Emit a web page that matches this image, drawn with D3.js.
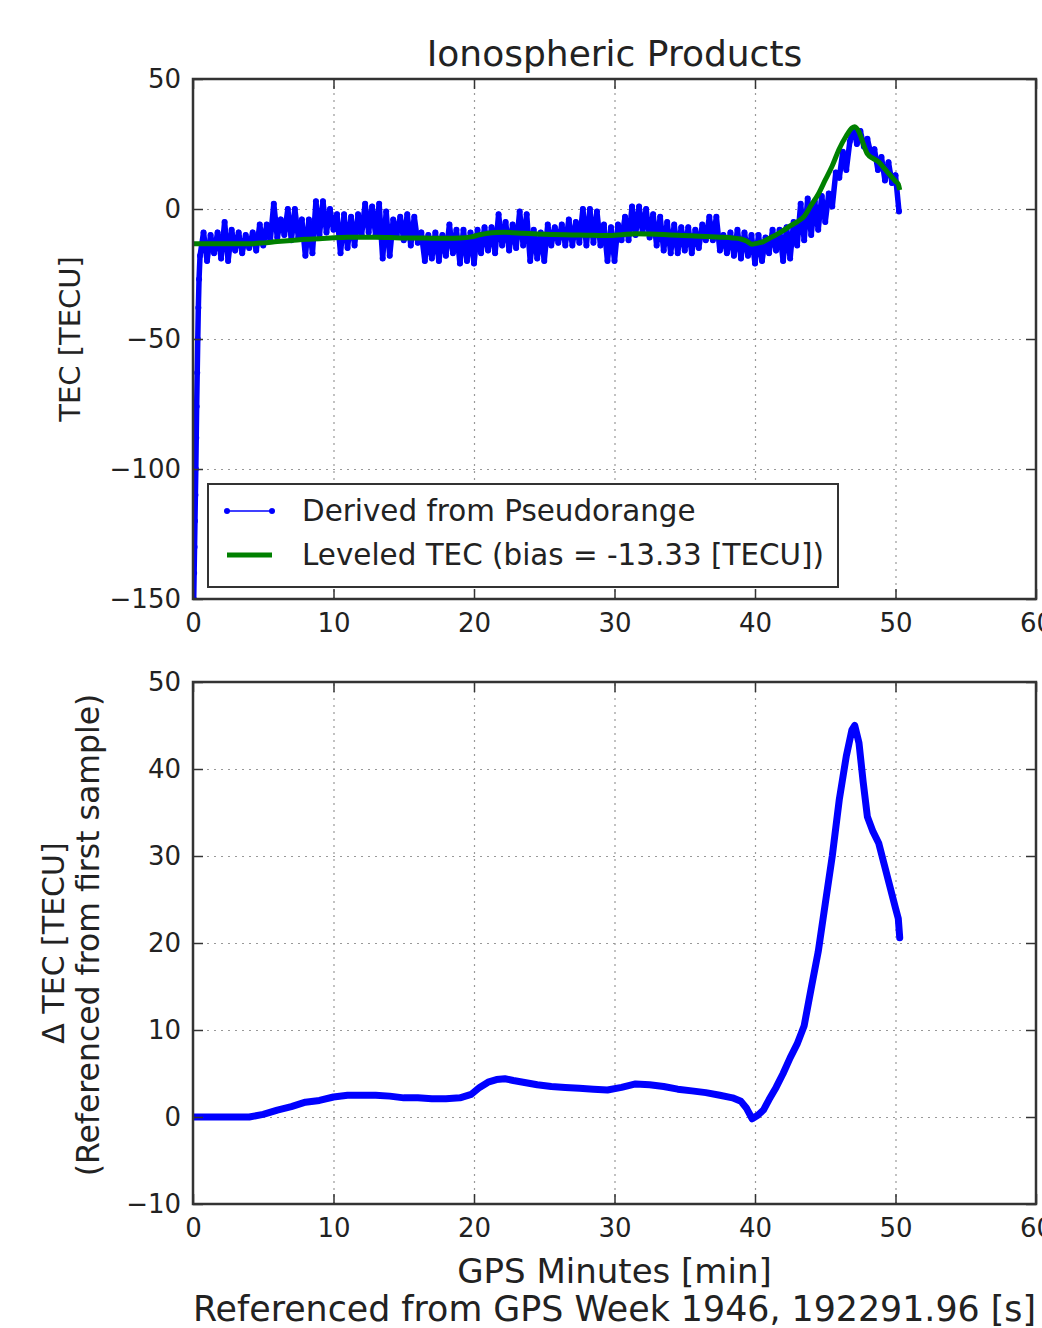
<!DOCTYPE html>
<html>
<head>
<meta charset="utf-8">
<script src="https://cdn.jsdelivr.net/npm/d3@7"></script>
<style>
  body { margin: 0; background: #fff; }
  svg { display: block; font-family: "DejaVu Sans", sans-serif; }
  .grid line { stroke: #999; stroke-width: 1.2; stroke-dasharray: 2,5; }
  .grid path { display: none; }
  .ticks path { display: none; }
  .ticks line { stroke: #333; stroke-width: 1.5; }
  .ticks text { fill: #222; font-size: 26px; font-family: "DejaVu Sans", sans-serif; }
  .label { fill: #222; }
</style>
</head>
<body>
<svg id="chart" width="1042" height="1328"></svg>
<script>
// ************************************
// Data
// ************************************

const xTicks = [0, 10, 20, 30, 40, 50, 60];
const topYTicks = [-150, -100, -50, 0, 50];
const bottomYTicks = [-10, 0, 10, 20, 30, 40, 50];

const bias = -13.33;  // from the legend text

// pseudorange TEC: steep start-up ramp in the first half minute
const rampMinutes = [0.05, 0.08, 0.11, 0.14, 0.17, 0.2, 0.23, 0.26, 0.3, 0.34, 0.38, 0.43];
const rampTec = [-150, -140, -130, -120, -110, -100, -88, -76, -63, -50, -38, -27];

// pseudorange TEC afterwards, one reading every 0.25 min from 0.5 min
const pseudoStart = 0.5, pseudoStep = 0.25;
const pseudoTec = [
  -18, -9,
  -20, -10, -17, -9,    -19, -5, -20, -8,     -16, -9, -17, -10,    -15, -9, -16, -6,
  -14, -6, -12, 2,      -11, -4, -10, 0,      -12, 0, -11, -4,      -18, -4, -17, 3,
  -10, 3, -9, 0,        -8, -2, -17, -2,      -15, -3, -14, -2,     -10, 2, -9, 1,
  -10, 2, -19, -1,      -18, -4, -10, -3,     -12, -2, -14, -3,     -13, -9, -20, -10,
  -19, -9, -20, -10,    -18, -6, -17, -8,     -21, -8, -20, -9,     -21, -8, -17, -7,
  -16, -7, -17, -2,     -14, -5, -16, -6,     -15, -1, -14, -2,     -20, -8, -19, -9,
  -20, -6, -14, -7,     -13, -6, -14, -4,     -14, -5, -13, 0,      -14, 0, -13, -1,
  -14, -6, -20, -7,     -20, -6, -12, -3,     -12, 1, -10, 1,       -9, 0, -11, -2,
  -14, -3, -16, -5,     -17, -6, -17, -7,     -16, -7, -17, -8,     -15, -6, -12, -3,
  -12, -3, -16, -10,    -17, -9, -18, -8,     -19, -9, -18, -10,    -21, -10, -20, -11,
  -17, -8, -16, -8,     -20, -7, -19, -5,     -14, 2, -12, 4,       -10, 3, -8, 5,
  -5, 6, 1, 14,         12, 22, 15, 26,       31, 25, 30, 24,       27, 21, 23, 15,
  20, 11, 18, 10,
  13, -1
];

// carrier-phase delta TEC (bottom panel)
const deltaMinutes = [0, 2, 4, 5, 6, 7, 8, 9, 10, 11, 12, 13, 14, 15, 16, 17, 18, 19, 19.8, 20.4,
  21, 21.6, 22.2, 22.8, 23.5, 24.5, 25.5, 26.5, 27.5, 28.5, 29.5, 30.5, 31.5, 32.5, 33.5, 34.5,
  35.5, 36.5, 37.5, 38.4, 39.0, 39.4, 39.8, 40.2, 40.6, 41.0, 41.5, 42.0, 42.5, 43.0, 43.5, 44.0,
  44.5, 45.0, 45.5, 46.0, 46.5, 46.9, 47.1, 47.4, 47.7, 48.0, 48.4, 48.8, 49.2, 49.6, 50.0, 50.2, 50.3];
const deltaTec = [0, 0, 0, 0.3, 0.8, 1.2, 1.7, 1.9, 2.3, 2.5, 2.5, 2.5, 2.4, 2.2, 2.2, 2.1, 2.1, 2.2, 2.6, 3.4,
  4.0, 4.3, 4.4, 4.2, 4.0, 3.7, 3.5, 3.4, 3.3, 3.2, 3.1, 3.4, 3.8, 3.7, 3.5, 3.2,
  3.0, 2.8, 2.5, 2.2, 1.8, 1.0, -0.2, 0.2, 0.8, 2.0, 3.4, 5.0, 6.8, 8.4, 10.5, 14.8,
  19.0, 24.5, 30.0, 36.5, 41.5, 44.5, 45.0, 43.0, 38.5, 34.5, 32.8, 31.5, 29.0, 26.5, 24.0, 22.8, 20.6];

const titleText = "Ionospheric Products";
const legendLabels = ["Derived from Pseudorange", "Leveled TEC (bias = -13.33 [TECU])"];

// ************************************
// Set up
// ************************************

const svg = d3.select("#chart");
const left = 193, right = 1036;

const x = d3.scaleLinear().domain([0, 60]).range([left, right]);
const yTop = d3.scaleLinear().domain([-150, 50]).range([599, 79]);
const yBot = d3.scaleLinear().domain([-10, 50]).range([1204, 682]);

const pseudo = rampMinutes.map((t, i) => ({x: t, y: rampTec[i]}))
  .concat(pseudoTec.map((v, i) => ({x: pseudoStart + i * pseudoStep, y: v})));
const delta = deltaMinutes.map((t, i) => ({x: t, y: deltaTec[i]}));
// leveled TEC is the delta TEC shifted by the bias
const leveled = delta.map(d => ({x: d.x, y: d.y + bias}));

function panel(y, yTicks, id) {
  const [y0, y1] = y.range();

  // clip for the data
  svg.append("clipPath").attr("id", id)
    .append("rect").attr("x", left).attr("y", y1).attr("width", right - left).attr("height", y0 - y1);

  // Gridlines
  svg.append("g").attr("class", "grid")
    .attr("transform", `translate(0,${y0})`)
    .call(d3.axisBottom(x).tickValues(xTicks.slice(1, -1)).tickSize(-(y0 - y1)).tickFormat(""));
  svg.append("g").attr("class", "grid")
    .attr("transform", `translate(${left},0)`)
    .call(d3.axisLeft(y).tickValues(yTicks.slice(1, -1)).tickSize(-(right - left)).tickFormat(""));

  const g = svg.append("g").attr("clip-path", `url(#${id})`);
  return g;
}

function frame(y, yTicks) {
  const [y0, y1] = y.range();
  const fmt = d3.format("d");

  svg.append("g").attr("class", "ticks")
    .attr("transform", `translate(0,${y0})`)
    .call(d3.axisBottom(x).tickValues(xTicks).tickSizeInner(-10).tickSizeOuter(0).tickPadding(15).tickFormat(fmt));
  svg.append("g").attr("class", "ticks")
    .attr("transform", `translate(0,${y1})`)
    .call(d3.axisTop(x).tickValues(xTicks).tickSizeInner(-10).tickSizeOuter(0).tickFormat(""));
  svg.append("g").attr("class", "ticks")
    .attr("transform", `translate(${left},0)`)
    .call(d3.axisLeft(y).tickValues(yTicks).tickSizeInner(-10).tickSizeOuter(0).tickPadding(12).tickFormat(fmt));
  svg.append("g").attr("class", "ticks")
    .attr("transform", `translate(${right},0)`)
    .call(d3.axisRight(y).tickValues(yTicks).tickSizeInner(-10).tickSizeOuter(0).tickFormat(""));

  svg.append("rect")
    .attr("x", left).attr("y", y1).attr("width", right - left).attr("height", y0 - y1)
    .attr("fill", "none").attr("stroke", "#333").attr("stroke-width", 2.5);
}

const line = (y) => d3.line().x(d => x(d.x)).y(d => y(d.y));

// ************************************
// Top panel
// ************************************

const gTop = panel(yTop, topYTicks, "clipTop");

// dense pseudorange noise shows as a solid band
gTop.append("path")
  .datum(pseudo)
  .attr("fill", "none")
  .attr("stroke", "#0000ff")
  .attr("stroke-width", 5.5)
  .attr("stroke-linejoin", "round")
  .attr("d", line(yTop));

gTop.selectAll(".dot")
  .data(pseudo)
  .enter().append("circle")
    .attr("class", "dot")
    .attr("cx", d => x(d.x))
    .attr("cy", d => yTop(d.y))
    .attr("r", 3)
    .attr("fill", "#0000ff");

gTop.append("path")
  .datum(leveled)
  .attr("fill", "none")
  .attr("stroke", "#008000")
  .attr("stroke-width", 5)
  .attr("stroke-linejoin", "round")
  .attr("d", line(yTop).curve(d3.curveMonotoneX));

frame(yTop, topYTicks);

// title
svg.append("text").attr("class", "label")
  .attr("x", (left + right) / 2).attr("y", 66)
  .attr("text-anchor", "middle").attr("font-size", 36)
  .text(titleText);

svg.append("text").attr("class", "label")
  .attr("transform", `translate(80,${(yTop.range()[0] + yTop.range()[1]) / 2}) rotate(-90)`)
  .attr("text-anchor", "middle").attr("font-size", 29)
  .text("TEC [TECU]");

// Legend
const legend = svg.append("g");
legend.append("rect")
  .attr("x", 208).attr("y", 484).attr("width", 630).attr("height", 103)
  .attr("fill", "#fff").attr("stroke", "#333").attr("stroke-width", 2);

legend.append("line")
  .attr("x1", 227).attr("x2", 272).attr("y1", 511).attr("y2", 511)
  .attr("stroke", "#0000ff").attr("stroke-width", 1.5);
legend.selectAll(".ldot")
  .data([227, 272])
  .enter().append("circle")
    .attr("cx", d => d).attr("cy", 511).attr("r", 3).attr("fill", "#0000ff");
legend.append("line")
  .attr("x1", 227).attr("x2", 272).attr("y1", 555).attr("y2", 555)
  .attr("stroke", "#008000").attr("stroke-width", 5);

legend.selectAll(".ltext")
  .data(legendLabels)
  .enter().append("text")
    .attr("class", "label")
    .attr("x", 302)
    .attr("y", (d, i) => 521 + i * 44)
    .attr("font-size", 29.4)
    .text(d => d);

// ************************************
// Bottom panel
// ************************************

const gBot = panel(yBot, bottomYTicks, "clipBot");

gBot.append("path")
  .datum(delta)
  .attr("fill", "none")
  .attr("stroke", "#0000ff")
  .attr("stroke-width", 7)
  .attr("stroke-linejoin", "round")
  .attr("stroke-linecap", "round")
  .attr("d", line(yBot));

frame(yBot, bottomYTicks);

const botMid = (yBot.range()[0] + yBot.range()[1]) / 2;
svg.append("text").attr("class", "label")
  .attr("transform", `translate(64,${botMid}) rotate(-90)`)
  .attr("text-anchor", "middle").attr("font-size", 30)
  .text("\u0394 TEC [TECU]");
svg.append("text").attr("class", "label")
  .attr("transform", `translate(99,${botMid - 8}) rotate(-90)`)
  .attr("text-anchor", "middle").attr("font-size", 31.5)
  .text("(Referenced from first sample)");

svg.append("text").attr("class", "label")
  .attr("x", (left + right) / 2).attr("y", 1283)
  .attr("text-anchor", "middle").attr("font-size", 34)
  .text("GPS Minutes [min]");
svg.append("text").attr("class", "label")
  .attr("x", (left + right) / 2).attr("y", 1321)
  .attr("text-anchor", "middle").attr("font-size", 34.8)
  .text("Referenced from GPS Week 1946, 192291.96 [s]");
</script>
</body>
</html>
